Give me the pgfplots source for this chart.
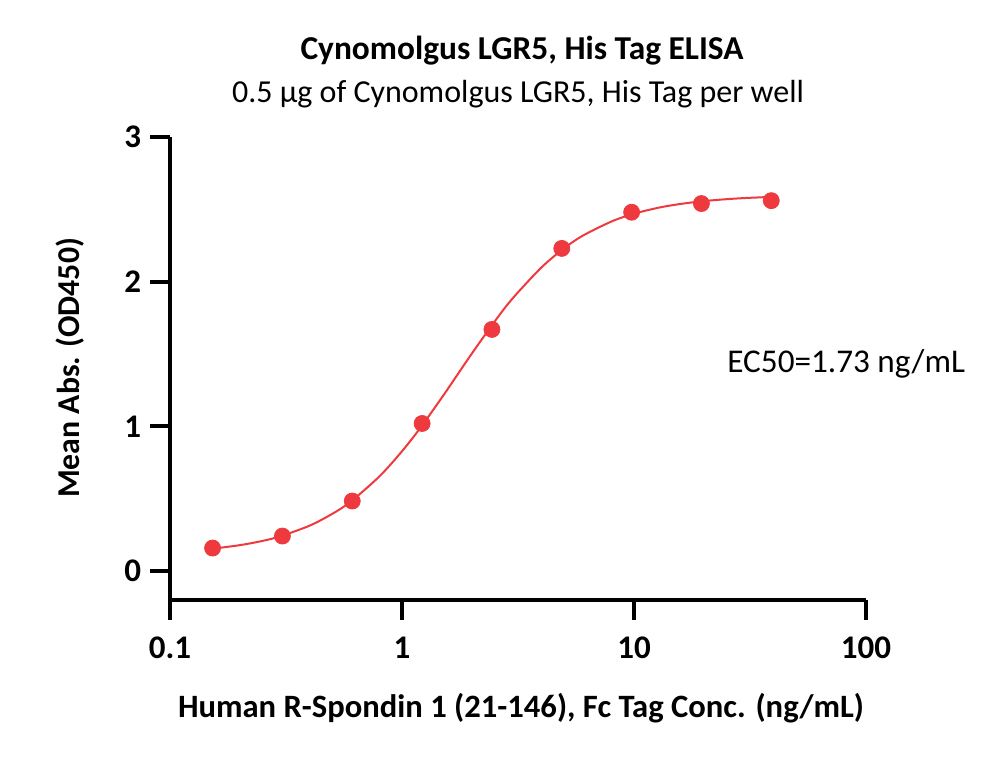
\documentclass[border=0pt]{standalone}
\usepackage{pgfplots}
\pgfplotsset{compat=1.18}
\usepackage{fontspec}
\setmainfont{Carlito}
\definecolor{curvered}{RGB}{238,58,62}
\begin{document}
\begin{tikzpicture}[x=1pt,y=1pt]
\useasboundingbox (0,0) rectangle (500,379.5);
\begin{axis}[
  at={(85pt,79.5pt)}, anchor=south west,
  width=348pt, height=231.5pt, scale only axis,
  xmode=log, xmin=0.1, xmax=100, ymin=-0.2, ymax=3,
  axis lines=left, axis line style={-, line width=2pt, black},
  every tick/.style={black, line width=2pt},
  tick align=outside, major tick length=10pt,
  xtick={0.1,1,10,100}, xticklabels={0.1,1,10,100},
  ytick={0,1,2,3},
  xminorticks=false, yminorticks=false,
  /pgf/number format/assume math mode=true,
  ticklabel style={font=\bfseries\fontsize{16.5}{18}\selectfont},
  xticklabel style={yshift=-5pt},
  yticklabel style={xshift=-1pt},
  clip=false,
]
\addplot[curvered, line width=1pt, smooth] coordinates {
(0.152,0.154) (0.2,0.179) (0.25,0.208) (0.3,0.241) (0.4,0.314) (0.5,0.395)
(0.6,0.479) (0.8,0.655) (1.0,0.828) (1.2,0.990) (1.5,1.209) (1.73,1.355)
(2.0,1.503) (2.5,1.722) (3.0,1.885) (4.0,2.100) (5.0,2.231) (6.0,2.317)
(8.0,2.416) (10,2.470) (13,2.514) (16,2.538) (20,2.557) (25,2.570)
(30,2.578) (39.06,2.586)
};
\addplot[only marks, mark=*, mark size=4pt, draw=curvered, fill=curvered] coordinates {
(0.1526,0.159) (0.3052,0.242) (0.6104,0.484) (1.221,1.02) (2.441,1.67)
(4.883,2.23) (9.766,2.48) (19.53,2.54) (39.06,2.56)
};
\end{axis}
\node[anchor=base, font=\bfseries\fontsize{16.7}{18}\selectfont] at (261,349.5) {Cynomolgus LGR5, His Tag ELISA};
\node[anchor=base, font=\fontsize{16}{18}\selectfont] at (259,328) {0.5 µg of Cynomolgus LGR5, His Tag per well};
\node[anchor=base, font=\bfseries\fontsize{16.3}{18}\selectfont] at (260.5,20.5) {Human R-Spondin 1 (21-146), Fc Tag Conc. (ng/mL)};
\node[anchor=base, rotate=90, font=\bfseries\fontsize{15.9}{18}\selectfont] at (39.5,195.5) {Mean Abs. (OD450)};
\node[anchor=base west, font=\fontsize{16.6}{18}\selectfont, inner sep=0pt] at (363.5,193) {EC50=1.73 ng/mL};
\end{tikzpicture}
\end{document}
